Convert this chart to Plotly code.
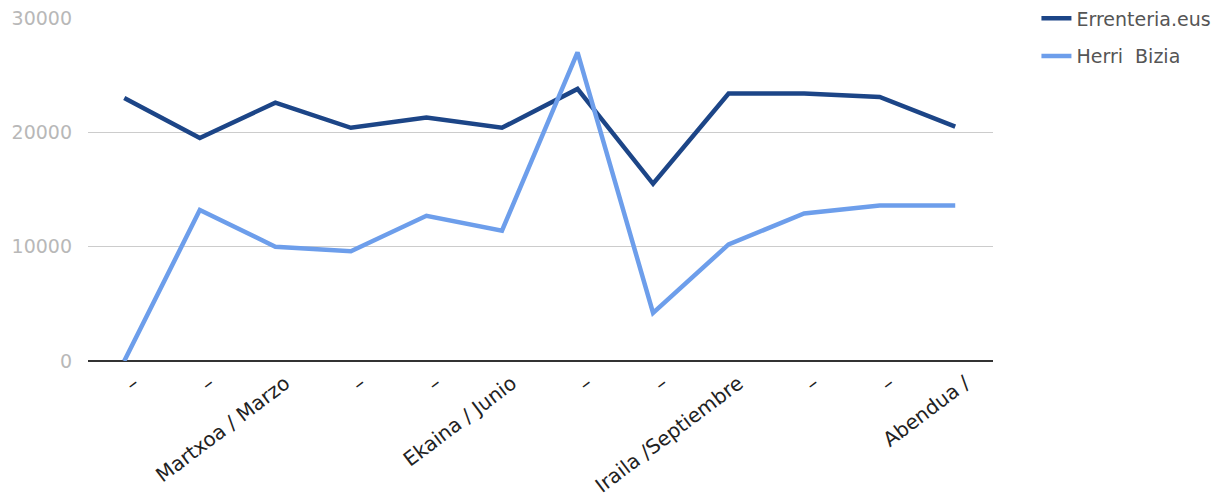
import plotly.graph_objects as go

tick_labels = ["–", "–", "Martxoa / Marzo", "–", "–", "Ekaina / Junio", "–", "–",
               "Iraila /Septiembre", "–", "–", "Abendua /"]
positions = list(range(12))
errenteria = [23000, 19500, 22600, 20400, 21300, 20400, 23800, 15500, 23400, 23400, 23100, 20500]
herri_bizia = [0, 13200, 10000, 9600, 12700, 11400, 27000, 4200, 10200, 12900, 13600, 13600]

fig = go.Figure()
fig.add_trace(go.Scatter(x=positions, y=errenteria, mode="lines", name="Errenteria.eus",
                         legendgroup="a", line=dict(color="#1c4587", width=4.5)))
fig.add_trace(go.Scatter(x=positions, y=herri_bizia, mode="lines", name="Herri  Bizia",
                         legendgroup="b", line=dict(color="#6d9eeb", width=4.5)))

fig.update_layout(
    width=1232, height=496,
    margin=dict(l=88, r=239, t=18, b=135, autoexpand=False),
    paper_bgcolor="white", plot_bgcolor="white",
    font=dict(family="DejaVu Sans, Arial, sans-serif"),
    legend=dict(x=1.048, y=1.054, xanchor="left", yanchor="top",
                font=dict(size=19, color="#555555"), tracegroupgap=10,
                traceorder="grouped", itemwidth=30),
    xaxis=dict(tickmode="array", tickvals=positions, ticktext=tick_labels,
               range=[-0.48, 11.5], tickangle=-37, showgrid=False, automargin=False,
               tickfont=dict(size=20, color="#222222"), ticks="", zeroline=False,
               ticklabelshift=10, ticklabelstandoff=6, ticklabeloverflow="allow"),
    yaxis=dict(range=[0, 30000], tickvals=[0, 10000, 20000, 30000], automargin=False,
               showgrid=True, gridcolor="#cccccc", gridwidth=1,
               tickfont=dict(size=19, color="#b8b8b8"), zeroline=True,
               zerolinecolor="#333333", zerolinewidth=2, ticks="",
               ticklabelstandoff=15, tickformat="d", ticklabeloverflow="allow"),
)
fig.write_html("out.html", config={"displayModeBar": False},
               post_script="document.body.style.margin='0';")
